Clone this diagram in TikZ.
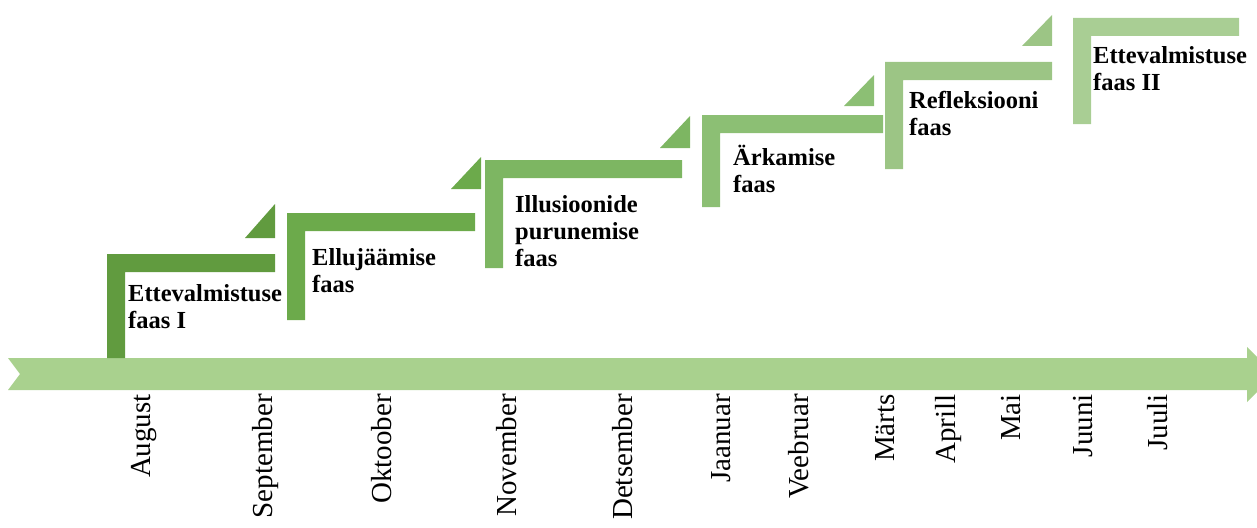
\documentclass[tikz,border=0pt]{standalone}
\usepackage{fontspec}
\setmainfont{Liberation Serif}
\usetikzlibrary{calc}
\definecolor{axisg}{HTML}{A9D18E}
\definecolor{stA}{HTML}{619B3F}
\definecolor{stB}{HTML}{6CAA4B}
\definecolor{stC}{HTML}{7DB662}
\definecolor{stD}{HTML}{8CBF74}
\definecolor{stE}{HTML}{9CC585}
\definecolor{stF}{HTML}{A9CE94}
\tikzset{
  phase/.style={anchor=base west,align=left,inner sep=0pt,font=\bfseries\fontsize{24.5}{27}\selectfont},
  month/.style={rotate=90,anchor=base east,inner sep=0pt,font=\fontsize{29}{31}\selectfont},
}

\begin{document}
\begin{tikzpicture}[x=1pt,y=-1pt]
\useasboundingbox (0,0) rectangle (1257,527);
% time axis
\fill[axisg] (8,358) -- (1247,358) -- (1247,347) -- (1275,374.5) -- (1247,402)
  -- (1247,390) -- (8,390) -- (20,374) -- cycle;
% steps
\foreach \x/\yt/\yb/\xe/\col in {107/254/358/275/stA, 287/213/320/475/stB,
  485/160/268/682/stC, 702/115/207/883/stD, 885/62/169/1052/stE, 1073/18/124/1239/stF}
  \fill[\col] (\x,\yb) -- (\x,\yt) -- (\xe,\yt) -- (\xe,\yt+18) -- (\x+18,\yt+18)
    -- (\x+18,\yb) -- cycle;
\foreach \xl/\yb/\xr/\yt/\col in {245/238/275/204/stA, 451/189/481/157/stB,
  660/148/690/116/stC, 844/106/874/75/stD, 1022/46/1052/15/stE}
  \fill[\col] (\xl,\yb) -- (\xr,\yb) -- (\xr,\yt) -- cycle;
% phases (base = last line)
\node[phase] (p1) at (128,328) {Ettevalmistuse\\faas I};
\node[phase] (p2) at (312,292) {Ellujäämise\\faas};
\node[phase] (p3) at (515,266) {Illusioonide\\purunemise\\faas};
\node[phase] (p4) at (733,192) {Ärkamise\\faas};
\node[phase] (p5) at (909,135) {Refleksiooni\\faas};
\node[phase] (p6) at (1093,90) {Ettevalmistuse\\faas II};
% months
\foreach \x/\m [count=\i] in {150/August, 272/September, 391/Oktoober, 516/November,
  632/Detsember, 730/Jaanuar, 808/Veebruar, 894/Märts, 955/Aprill, 1020/Mai,
  1092/Juuni, 1167/Juuli}
  \node[month] (m\i) at (\x,394) {\m};
\end{tikzpicture}
\end{document}
